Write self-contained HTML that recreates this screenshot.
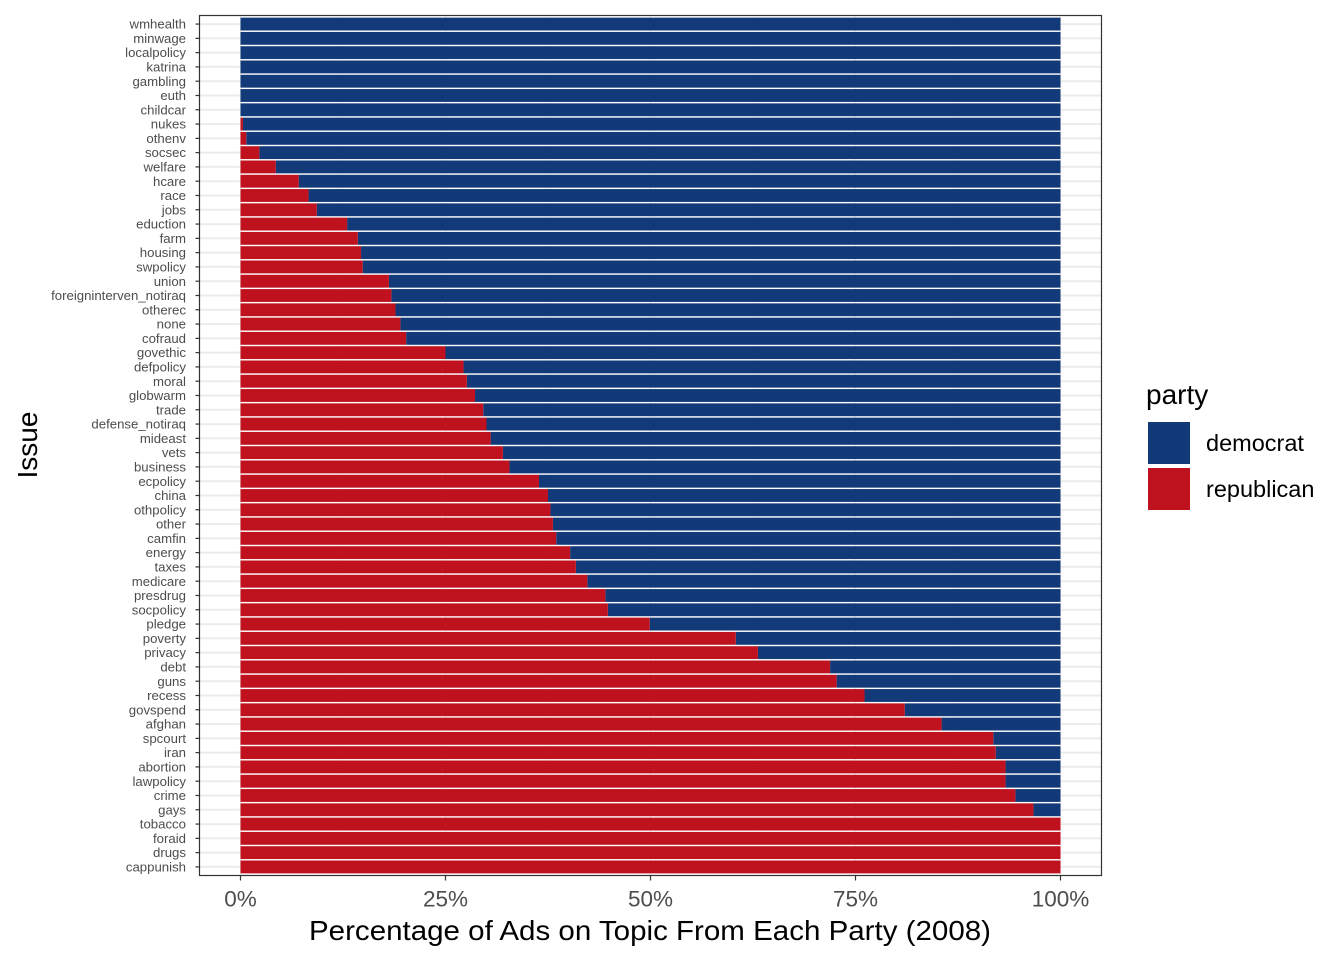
<!DOCTYPE html>
<html><head><meta charset="utf-8"><style>
body{margin:0;background:#fff;font-family:"Liberation Sans",Arial,sans-serif}
svg text{font-family:"Liberation Sans",Arial,sans-serif}
</style></head><body>
<svg id="c" width="1344" height="960" xmlns="http://www.w3.org/2000/svg"></svg>
<script>
const issues=["wmhealth","minwage","localpolicy","katrina","gambling","euth","childcar","nukes","othenv","socsec","welfare","hcare","race","jobs","eduction","farm","housing","swpolicy","union","foreigninterven_notiraq","otherec","none","cofraud","govethic","defpolicy","moral","globwarm","trade","defense_notiraq","mideast","vets","business","ecpolicy","china","othpolicy","other","camfin","energy","taxes","medicare","presdrug","socpolicy","pledge","poverty","privacy","debt","guns","recess","govspend","afghan","spcourt","iran","abortion","lawpolicy","crime","gays","tobacco","foraid","drugs","cappunish"];
const repPct=[0,0,0,0,0,0,0,0.3,0.7,2.3,4.3,7.1,8.3,9.3,13.0,14.3,14.7,14.9,18.1,18.4,18.9,19.5,20.2,25.0,27.2,27.6,28.6,29.6,30.0,30.5,32.0,32.8,36.4,37.5,37.8,38.1,38.5,40.2,40.9,42.3,44.5,44.8,49.9,60.4,63.1,71.9,72.7,76.1,81.0,85.5,91.8,92.1,93.3,93.3,94.5,96.7,100,100,100,100];
const xTicks=[0,25,50,75,100];
const xTickLabels=["0%","25%","50%","75%","100%"];
const NS="http://www.w3.org/2000/svg",svg=document.getElementById('c');
const PL=199.5,PR=1101.5,PT=15.5,PB=875.5;
const x=v=>PL+(v+5)/110*(PR-PL);
const n=issues.length,step=(PB-PT)/(n-1+1.2);
const y=i=>PT+step*(0.6+i);
function el(t,a,p){const e=document.createElementNS(NS,t);for(const k in a)e.setAttribute(k,a[k]);(p||svg).appendChild(e);return e;}
const panel=el('rect',{x:PL,y:PT,width:PR-PL,height:PB-PT,fill:'#fff'});

xTicks.forEach((t,i)=>{if(i<xTicks.length-1){const g=el('line',{x1:x(t+12.5),x2:x(t+12.5),y1:PT,y2:PB,stroke:'#f0f0f0','stroke-width':0.6});}});
xTicks.forEach(t=>{const g=el('line',{x1:x(t),x2:x(t),y1:PT,y2:PB,stroke:'#ebebeb','stroke-width':1.2});});
issues.forEach((s,i)=>{const g=el('line',{x1:PL,x2:PR,y1:y(i),y2:y(i),stroke:'#ebebeb','stroke-width':2});});
const bh=step*0.9;
issues.forEach((s,i)=>{
 const r=repPct[i];
 const d=el('rect',{x:x(r),y:y(i)-bh/2,width:x(100)-x(r),height:bh,fill:'#123a78'});
 
 if(r>0){const b=el('rect',{x:x(0),y:y(i)-bh/2,width:x(r)-x(0),height:bh,fill:'#c0111f'});
 }
 const tk=el('line',{x1:PL-4,x2:PL,y1:y(i),y2:y(i),stroke:'#333','stroke-width':1.2});
 
 const tl=el('text',{x:PL-13.5,y:y(i)+4.6,'text-anchor':'end','font-size':13.2,fill:'#4d4d4d'});tl.textContent=s;
 
});
const bd=el('rect',{x:PL,y:PT,width:PR-PL,height:PB-PT,fill:'none',stroke:'#333','stroke-width':1.2});

xTicks.forEach((t,i)=>{
 const tk=el('line',{x1:x(t),x2:x(t),y1:PB,y2:PB+5,stroke:'#333','stroke-width':1.2});
 
 const tl=el('text',{x:x(t),y:PB+31,'text-anchor':'middle','font-size':22.5,fill:'#4d4d4d'});tl.textContent=xTickLabels[i];
 
});
const xt=el('text',{x:309,y:940,'font-size':28,fill:'#000',textLength:682,lengthAdjust:'spacingAndGlyphs'});xt.textContent='Percentage of Ads on Topic From Each Party (2008)';

const yt=el('text',{x:0,y:0,'text-anchor':'middle','font-size':28,fill:'#000',transform:'translate(37,445) rotate(-90)'});yt.textContent='Issue';

const lg=el('g',{});
const lt=el('text',{x:1146,y:404,'font-size':28,fill:'#000'},lg);lt.textContent='party';

[['democrat','#123a78',422],['republican','#c0111f',468]].forEach(([nm,c,yy])=>{
 const k=el('rect',{x:1148,y:yy,width:42,height:42,fill:c},lg);
 
 const t=el('text',{x:1206,y:yy+29,'font-size':23.5,fill:'#000'},lg);t.textContent=nm;
 
});
</script>
</body></html>
